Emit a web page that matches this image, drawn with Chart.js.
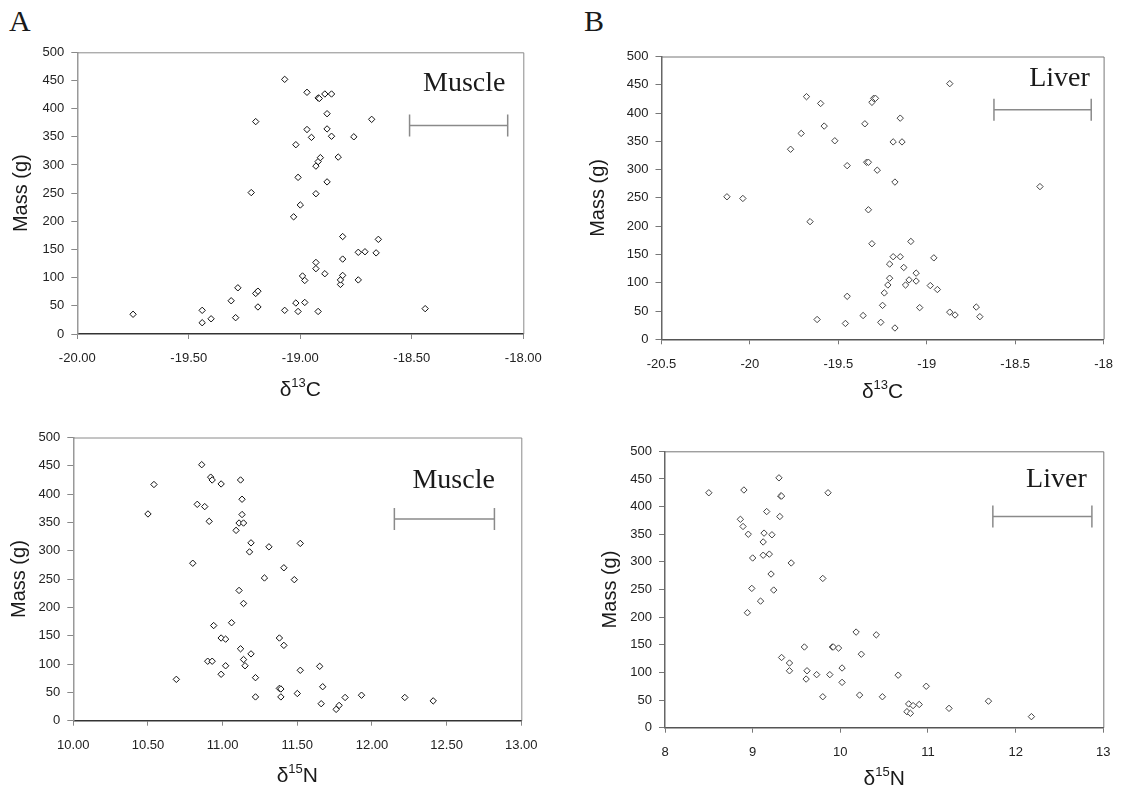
<!DOCTYPE html>
<html>
<head>
<meta charset="utf-8">
<script src="https://cdn.jsdelivr.net/npm/chart.js@4.4.1/dist/chart.umd.min.js"></script>
<style>
  body { margin: 0; background: #fff; }
  #page { position: relative; width: 1125px; height: 787px; overflow: hidden; }
  canvas { position: absolute; }
  .letter { position: absolute; font-family: "Liberation Serif", "Times New Roman", serif; font-size: 30px; color: #1a1a1a; line-height: 1; }
</style>
</head>
<body>
<div id="page">
  <div class="letter" style="left:9px; top:6px;">A</div>
  <div class="letter" style="left:584px; top:6px;">B</div>
  <canvas id="muscleC" width="560" height="412" style="left:0; top:0;"></canvas>
  <canvas id="liverC" width="565" height="412" style="left:560px; top:0;"></canvas>
  <canvas id="muscleN" width="560" height="392" style="left:0; top:395px;"></canvas>
  <canvas id="liverN" width="565" height="392" style="left:560px; top:395px;"></canvas>
</div>
<script>
// mass ticks shared by all four panels
const massTicks = ["0", "50", "100", "150", "200", "250", "300", "350", "400", "450", "500"];

// muscle, d13C vs mass
const muscleC13 = [-19.75, -19.44, -19.44, -19.40, -19.31, -19.29, -19.28, -19.22, -19.20, -19.20, -19.19, -19.19,
  -19.07, -19.07, -19.03, -19.02, -19.02, -19.01, -19.01, -19.00, -18.99, -18.98, -18.98, -18.97, -18.97, -18.95,
  -18.93, -18.93, -18.93, -18.93, -18.92, -18.92, -18.915, -18.92, -18.91, -18.89, -18.89, -18.88, -18.88, -18.88,
  -18.86, -18.86, -18.83, -18.82, -18.82, -18.81, -18.81, -18.81, -18.76, -18.74, -18.74, -18.71, -18.68, -18.66,
  -18.65, -18.44];
const muscleMassC = [35, 42, 20, 27, 59, 29, 82, 251, 377, 72, 76, 48,
  42, 452, 208, 55, 336, 40, 278, 229, 103, 95, 56, 429, 363, 349,
  249, 127, 116, 298, 40, 419, 418, 306, 313, 426, 107, 270, 391, 364,
  426, 351, 314, 88, 96, 173, 133, 104, 350, 145, 96, 146, 381, 144,
  168, 45];
const muscleCTicks = ["-20.00", "-19.50", "-19.00", "-18.50", "-18.00"];
const muscleCBar = [-18.51, -18.07, 370];

// liver, d13C vs mass
const liverC13 = [-20.13, -20.04, -19.77, -19.71, -19.68, -19.66, -19.62, -19.60, -19.58, -19.52, -19.46, -19.45,
  -19.45, -19.36, -19.35, -19.34, -19.33, -19.33, -19.31, -19.31, -19.30, -19.29, -19.28, -19.26, -19.25, -19.24,
  -19.22, -19.21, -19.21, -19.19, -19.19, -19.18, -19.18, -19.15, -19.15, -19.14, -19.13, -19.12, -19.10, -19.09,
  -19.06, -19.06, -19.04, -18.98, -18.96, -18.94, -18.87, -18.87, -18.84, -18.72, -18.70, -18.36];
const liverMassC = [252, 249, 336, 364, 429, 208, 35, 417, 377, 351, 28, 76,
  307, 42, 381, 313, 313, 229, 419, 169, 426, 426, 299, 30, 60, 82,
  96, 133, 108, 349, 146, 278, 20, 391, 146, 349, 127, 96, 105, 173,
  103, 117, 56, 95, 144, 88, 452, 48, 43, 57, 40, 270];
const liverCTicks = ["-20.5", "-20", "-19.5", "-19", "-18.5", "-18"];
const liverCBar = [-18.62, -18.07, 406];

// muscle, d15N vs mass
const muscleN15 = [10.50, 10.54, 10.69, 10.80, 10.83, 10.86, 10.88, 10.90, 10.91, 10.92, 10.93, 10.93,
  10.94, 10.99, 10.99, 10.99, 11.02, 11.02, 11.06, 11.09, 11.11, 11.11, 11.12, 11.12, 11.13, 11.13,
  11.14, 11.14, 11.14, 11.15, 11.18, 11.19, 11.19, 11.22, 11.22, 11.28, 11.31, 11.38, 11.38, 11.39,
  11.39, 11.41, 11.41, 11.48, 11.50, 11.52, 11.52, 11.65, 11.66, 11.67, 11.76, 11.78, 11.82, 11.93,
  12.22, 12.41];
const muscleMassN = [365, 417, 73, 278, 382, 452, 378, 105, 352, 430, 425, 105,
  168, 418, 146, 82, 97, 144, 173, 336, 230, 349, 127, 425, 391, 364,
  108, 207, 349, 97, 298, 314, 118, 76, 42, 252, 307, 146, 57, 42,
  56, 133, 270, 249, 48, 313, 89, 96, 30, 60, 20, 27, 41, 45,
  41, 35];
const muscleNTicks = ["10.00", "10.50", "11.00", "11.50", "12.00", "12.50", "13.00"];
const muscleNBar = [12.15, 12.82, 356];

// liver, d15N vs mass
const liverN15 = [8.50, 8.86, 8.89, 8.90, 8.94, 8.95, 8.99, 9.00, 9.09, 9.12, 9.12, 9.13,
  9.16, 9.19, 9.21, 9.22, 9.24, 9.30, 9.31, 9.32, 9.33, 9.33, 9.42, 9.42, 9.44, 9.59,
  9.61, 9.62, 9.73, 9.80, 9.80, 9.86, 9.88, 9.91, 9.92, 9.98, 10.02, 10.02, 10.18, 10.22,
  10.24, 10.41, 10.48, 10.66, 10.76, 10.78, 10.80, 10.83, 10.90, 10.98, 11.24, 11.69, 12.18];
const liverMassN = [425, 377, 364, 430, 208, 350, 252, 307, 229, 312, 336, 352,
  391, 314, 278, 349, 249, 452, 382, 419, 419, 127, 117, 103, 298, 146,
  88, 103, 96, 56, 270, 425, 96, 146, 146, 144, 108, 82, 173, 59,
  133, 168, 56, 95, 29, 43, 26, 40, 42, 75, 35, 48, 20];
const liverNTicks = ["8", "9", "10", "11", "12", "13"];
const liverNBar = [11.74, 12.87, 382];

const sans = "'Liberation Sans', Arial, Helvetica, sans-serif";
const serif = "'Liberation Serif', 'Times New Roman', serif";

// frame, tissue label and axis titles (with superscript isotope mass)
const panelDecor = {
  id: "panelDecor",
  afterDatasetsDraw(chart, args, o) {
    const { ctx, chartArea: a, scales } = chart;
    ctx.save();
    ctx.strokeStyle = o.frameColor;
    ctx.lineWidth = 1;
    ctx.beginPath();
    ctx.moveTo(a.left, a.top + 0.5);
    ctx.lineTo(a.right + 0.5, a.top + 0.5);
    ctx.lineTo(a.right + 0.5, a.bottom);
    ctx.stroke();

    ctx.fillStyle = "#1a1a1a";
    ctx.font = "28px " + serif;
    ctx.textAlign = "right";
    ctx.textBaseline = "alphabetic";
    ctx.fillText(o.label, scales.x.getPixelForValue(o.labelAt[0]), scales.y.getPixelForValue(o.labelAt[1]));

    // x title: delta, superscript, element
    const big = "21px " + sans, small = "13px " + sans;
    ctx.textAlign = "left";
    ctx.font = big;
    const wD = ctx.measureText("\u03b4").width;
    const wE = ctx.measureText(o.element).width;
    ctx.font = small;
    const wS = ctx.measureText(o.isotope).width;
    let x = (a.left + a.right) / 2 - (wD + wS + wE) / 2;
    const base = a.bottom + o.xTitleOffset;
    ctx.font = big;
    ctx.fillText("\u03b4", x, base);
    x += wD;
    ctx.font = small;
    ctx.fillText(o.isotope, x, base - 9);
    x += wS;
    ctx.font = big;
    ctx.fillText(o.element, x, base);

    // y title
    ctx.translate(o.yTitleX, (a.top + a.bottom) / 2);
    ctx.rotate(-Math.PI / 2);
    ctx.font = "20px " + sans;
    ctx.textAlign = "center";
    ctx.textBaseline = "middle";
    ctx.fillText("Mass (g)", 0, 0);
    ctx.restore();
  }
};

function makePanel(id, p) {
  const points = p.xs.map((v, i) => ({ x: v, y: p.ys[i] }));
  const bar = [{ x: p.bar[0], y: p.bar[2] }, { x: p.bar[1], y: p.bar[2] }];
  return new Chart(document.getElementById(id), {
    type: "scatter",
    data: {
      datasets: [
        {
          data: points,
          pointStyle: "rectRot",
          pointRadius: 3.2,
          pointBorderWidth: 1,
          pointBorderColor: p.markColor,
          pointBackgroundColor: "#fff"
        },
        {
          type: "line",
          data: bar,
          showLine: true,
          borderColor: "#8a8a8a",
          borderWidth: 1.5,
          pointStyle: "line",
          rotation: 90,
          pointRadius: 11,
          pointBorderColor: "#8a8a8a",
          pointBorderWidth: 1.5
        }
      ]
    },
    options: {
      responsive: false,
      animation: false,
      events: [],
      layout: { padding: { left: 0, top: p.top, right: p.right, bottom: 0 } },
      plugins: {
        legend: { display: false },
        tooltip: { enabled: false },
        panelDecor: {
          label: p.label,
          labelAt: p.labelAt,
          element: p.element,
          isotope: p.isotope,
          xTitleOffset: p.xTitleOffset,
          yTitleX: p.yTitleX,
          frameColor: p.frameColor
        }
      },
      scales: {
        x: {
          type: "linear",
          min: p.xMin,
          max: p.xMax,
          ticks: {
            stepSize: p.xStep,
            autoSkip: false,
            maxRotation: 0,
            padding: 12,
            color: "#222",
            font: { family: sans, size: 13 },
            callback: (v, i) => p.xTicks[i]
          },
          grid: { drawOnChartArea: false, tickLength: 5, color: p.tickColor },
          border: { color: p.bottomColor, width: 1.5 },
          afterFit(s) { s.height = p.xHeight; }
        },
        y: {
          min: 0,
          max: 500,
          ticks: {
            stepSize: 50,
            padding: 7,
            color: "#222",
            font: { family: sans, size: 13 },
            callback: (v, i) => massTicks[i]
          },
          grid: { drawOnChartArea: false, tickLength: 6, color: p.tickColor },
          border: { color: p.leftColor, width: 1.5 },
          afterFit(s) { s.width = p.yWidth; }
        }
      }
    },
    plugins: [panelDecor]
  });
}

makePanel("muscleC", {
  xs: muscleC13, ys: muscleMassC, bar: muscleCBar, xTicks: muscleCTicks,
  xMin: -20, xMax: -18, xStep: 0.5,
  top: 52.3, right: 36.7, yWidth: 77.3, xHeight: 78,
  label: "Muscle", labelAt: [-18.08, 432], element: "C", isotope: "13",
  xTitleOffset: 62, yTitleX: 21,
  markColor: "#111", tickColor: "#888", leftColor: "#999", bottomColor: "#333", frameColor: "#8a8a8a"
});

makePanel("liverC", {
  xs: liverC13, ys: liverMassC, bar: liverCBar, xTicks: liverCTicks,
  xMin: -20.5, xMax: -18, xStep: 0.5,
  top: 56.5, right: 15, yWidth: 101.5, xHeight: 72.7,
  label: "Liver", labelAt: [-18.078, 447], element: "C", isotope: "13",
  xTitleOffset: 59, yTitleX: 38,
  markColor: "#444", tickColor: "#777", leftColor: "#666", bottomColor: "#555", frameColor: "#777"
});

makePanel("muscleN", {
  xs: muscleN15, ys: muscleMassN, bar: muscleNBar, xTicks: muscleNTicks,
  xMin: 10, xMax: 13, xStep: 0.5,
  top: 42.5, right: 38.7, yWidth: 73.3, xHeight: 66.3,
  label: "Muscle", labelAt: [12.823, 411], element: "N", isotope: "15",
  xTitleOffset: 61, yTitleX: 19.5,
  markColor: "#111", tickColor: "#888", leftColor: "#999", bottomColor: "#333", frameColor: "#8a8a8a"
});

makePanel("liverN", {
  xs: liverN15, ys: liverMassN, bar: liverNBar, xTicks: liverNTicks,
  xMin: 8, xMax: 13, xStep: 1,
  top: 56.3, right: 21.7, yWidth: 105, xHeight: 59.3,
  label: "Liver", labelAt: [12.811, 435], element: "N", isotope: "15",
  xTitleOffset: 57, yTitleX: 50.5,
  markColor: "#444", tickColor: "#777", leftColor: "#666", bottomColor: "#555", frameColor: "#777"
});
</script>
</body>
</html>
